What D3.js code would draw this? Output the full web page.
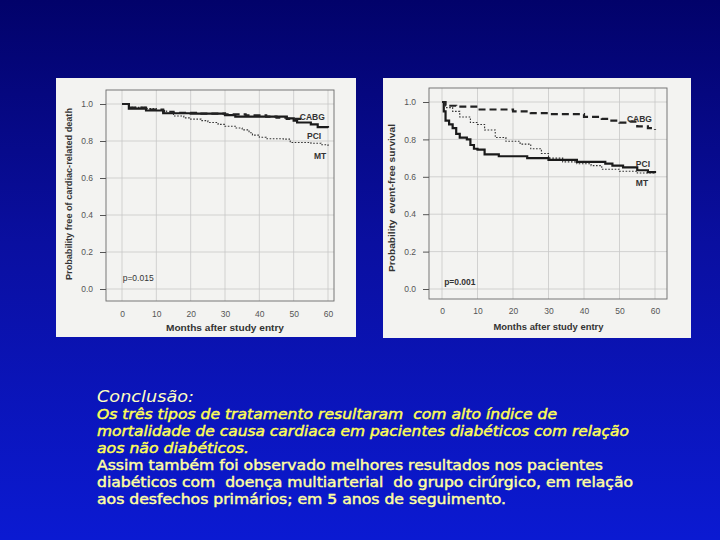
<!DOCTYPE html>
<html><head><meta charset="utf-8">
<script src="https://cdn.jsdelivr.net/npm/d3@7/dist/d3.min.js"></script>
<style>
html,body{margin:0;padding:0;background:#000070;}
svg{display:block;}
</style></head>
<body>
<svg id="c" width="720" height="540"></svg>
<script>
// ---------- data ----------
const xTicks = [0,10,20,30,40,50,60];
const yTicks = [0,0.2,0.4,0.6,0.8,1.0];
const yTickLabels = ["0.0","0.2","0.4","0.6","0.8","1.0"];
const seriesNames = ["CABG","PCI","MT"];

// Panel 1: cardiac-related death
const cabg1Months = [0,2,7,12,15,22,30,36,42,45,48,53];
const cabg1Vals   = [1.0,0.98,0.97,0.958,0.952,0.948,0.944,0.938,0.932,0.926,0.92,0.92];
const pci1Months  = [0,2,7,12,20,30,33,47,48,50,51,55,57,60];
const pci1Vals    = [1.0,0.975,0.965,0.95,0.948,0.94,0.932,0.932,0.922,0.91,0.9,0.89,0.875,0.872];
const mt1Months   = [0,2,7,10,13,15,18,20,23,25,28,30,33,35,37,38,40,42,47,49,55,58,60];
const mt1Vals     = [1.0,0.982,0.975,0.965,0.95,0.935,0.925,0.918,0.91,0.9,0.89,0.88,0.87,0.86,0.845,0.832,0.82,0.812,0.81,0.792,0.788,0.78,0.772];

// Panel 2: event-free survival
const cabg2Months = [0,1,4,10,20,25,30,40,45,47,50,53,55,58,60];
const cabg2Vals   = [1.0,0.98,0.975,0.96,0.95,0.94,0.935,0.92,0.91,0.9,0.89,0.895,0.87,0.86,0.85];
const pci2Months  = [0,0.5,1,2,3,4,5,7,8,9,10,12,16,24,30,38,46,48,51,55,58,60];
const pci2Vals    = [1.0,0.95,0.9,0.88,0.86,0.83,0.81,0.8,0.77,0.75,0.745,0.72,0.71,0.70,0.69,0.68,0.67,0.66,0.65,0.635,0.625,0.62];
const mt2Months   = [0,1,3,5,8,10,12,15,18,22,25,28,30,34,38,42,45,50,55,60];
const mt2Vals     = [1.0,0.97,0.95,0.92,0.89,0.88,0.85,0.81,0.79,0.775,0.75,0.725,0.70,0.68,0.67,0.66,0.64,0.63,0.62,0.615];

const pValues = ["p=0.015","p=0.001"];
const yTitles = ["Probability free of cardiac-related death","Probability  event-free survival"];
const xTitle = "Months after study entry";

const conclusionTitle = "Conclusão:";
const conclusionLines = [
  "Os três tipos de tratamento resultaram  com alto índice de",
  "mortalidade de causa cardiaca em pacientes diabéticos com relação",
  "aos não diabéticos.",
  "Assim também foi observado melhores resultados nos pacientes",
  "diabéticos com  doença multiarterial  do grupo cirúrgico, em relação",
  "aos desfechos primários; em 5 anos de seguimento."
];

// ---------- drawing ----------
const svg = d3.select("#c");
const defs = svg.append("defs");
const grad = defs.append("linearGradient").attr("id","bg").attr("x1",0).attr("y1",0).attr("x2",0).attr("y2",1);
grad.append("stop").attr("offset","0%").attr("stop-color","#02026a");
grad.append("stop").attr("offset","45%").attr("stop-color","#0a0fa0");
grad.append("stop").attr("offset","100%").attr("stop-color","#0b1ad2");
svg.append("rect").attr("width",720).attr("height",540).attr("fill","url(#bg)");

const FONT = "Liberation Sans, Arial, sans-serif";
const panels = [
  {px:56, py:78, pw:300, ph:259, box:[106,90,334,301], xr:[122,328], yr:[289,104],
   series:[[cabg1Months,cabg1Vals],[pci1Months,pci1Vals],[mt1Months,mt1Vals]],
   labels:[[51.8,0.935],[53.9,0.832],[55.9,0.724]], p:[0.2,0.06], pBold:false,
   yTitleX:68, yTitleC:194, yTitleL:172, xTitleL:118, xLabY:314, xTitleY:327},
  {px:383, py:78, pw:308, ph:260, box:[429,88,667,299], xr:[442,655], yr:[289,102],
   series:[[cabg2Months,cabg2Vals],[pci2Months,pci2Vals],[mt2Months,mt2Vals]],
   labels:[[52.1,0.913],[54.6,0.673],[54.6,0.571]], p:[0.6,0.04], pBold:true,
   yTitleX:391, yTitleC:198, yTitleL:148, xTitleL:110, xLabY:311, xTitleY:326}
];

const styles = [
  {w:2.2, dash:"7,4", col:"#222"},
  {w:2.2, dash:null, col:"#1a1a1a"},
  {w:1.1, dash:"1.6,1.6", col:"#333"}
];

panels.forEach((P,i)=>{
  const g = svg.append("g");
  g.append("rect").attr("x",P.px).attr("y",P.py).attr("width",P.pw).attr("height",P.ph).attr("fill","#f3f3f1");
  const x = d3.scaleLinear().domain([0,60]).range(P.xr);
  const y = d3.scaleLinear().domain([0,1]).range(P.yr);
  const [bx0,by0,bx1,by1] = P.box;
  // grid
  g.selectAll(".vg").data(xTicks).join("line")
    .attr("x1",d=>x(d)).attr("x2",d=>x(d)).attr("y1",by0).attr("y2",by1)
    .attr("stroke","#c8c8c8").attr("stroke-width",0.8);
  g.selectAll(".hg").data(yTicks).join("line")
    .attr("y1",d=>y(d)).attr("y2",d=>y(d)).attr("x1",bx0).attr("x2",bx1)
    .attr("stroke","#c8c8c8").attr("stroke-width",0.8);
  // box
  g.append("rect").attr("x",bx0).attr("y",by0).attr("width",bx1-bx0).attr("height",by1-by0)
    .attr("fill","none").attr("stroke","#6a6a6a").attr("stroke-width",0.9);
  // axes via d3
  const yAxis = d3.axisLeft(y).tickValues(yTicks).tickFormat((d,k)=>yTickLabels[k]).tickSize(6).tickPadding(7);
  const ya = g.append("g").attr("transform",`translate(${bx0},0)`).call(yAxis);
  ya.select(".domain").remove();
  ya.selectAll("line").attr("stroke","#555");
  ya.selectAll("text").attr("font-family",FONT).attr("font-size",8.5).attr("fill","#555");
  const xAxis = d3.axisBottom(x).tickValues(xTicks).tickSize(0).tickPadding(P.xLabY-by1-3);
  const xa = g.append("g").attr("transform",`translate(0,${by1})`).call(xAxis);
  xa.select(".domain").remove();
  xa.selectAll("text").attr("font-family",FONT).attr("font-size",8.5).attr("fill","#555");
  // titles
  g.append("text").attr("x",(P.xr[0]+P.xr[1])/2 - P.xTitleL/2).attr("y",P.xTitleY+3.5)
    .attr("font-family",FONT).attr("font-weight","bold").attr("font-size",9.5).attr("fill","#333")
    .attr("textLength",P.xTitleL).attr("lengthAdjust","spacingAndGlyphs")
    .text(xTitle);
  g.append("text").attr("transform",`translate(${P.yTitleX+3.5},${P.yTitleC + P.yTitleL/2}) rotate(-90)`)
    .attr("font-family",FONT).attr("font-weight","bold").attr("font-size",9).attr("fill","#333")
    .attr("style","white-space:pre")
    .attr("textLength",P.yTitleL).attr("lengthAdjust","spacingAndGlyphs")
    .text(yTitles[i]);
  // lines
  const line = d3.line().x(d=>x(d[0])).y(d=>y(d[1])).curve(d3.curveStepAfter);
  [2,1,0].forEach(s=>{
    const [m,v] = P.series[s];
    const pts = m.map((mm,k)=>[mm,v[k]]);
    const path = g.append("path").attr("d",line(pts)).attr("fill","none")
      .attr("stroke",styles[s].col).attr("stroke-width",styles[s].w);
    if(styles[s].dash) path.attr("stroke-dasharray",styles[s].dash);
  });
  // series labels
  seriesNames.forEach((n,k)=>{
    g.append("text").attr("x",x(P.labels[k][0])).attr("y",y(P.labels[k][1])+3.5)
      .attr("font-family",FONT).attr("font-weight","bold").attr("font-size",8.5).attr("fill","#333")
      .text(n);
  });
  g.append("text").attr("x",x(P.p[0])).attr("y",y(P.p[1])+3)
    .attr("font-family",FONT).attr("font-weight",P.pBold?"bold":"normal").attr("font-size",8.5).attr("fill","#333")
    .text(pValues[i]);
});

// conclusion text
svg.append("text").attr("x",97).attr("y",402).attr("font-family","DejaVu Sans, Verdana, sans-serif")
  .attr("font-style","italic").attr("font-size",15).attr("fill","#ffffc0")
  .attr("textLength",97).attr("lengthAdjust","spacingAndGlyphs").text(conclusionTitle);
const lineY = [419,436,453,470,487,504];
const lineW = [460,532,152,506,536,409];
conclusionLines.forEach((t,k)=>{
  const col = k<3?"#ffff55":"#ffffa0";
  svg.append("text").attr("x",97).attr("y",lineY[k])
    .attr("font-family","DejaVu Sans, Verdana, sans-serif")
    .attr("font-style",k<3?"italic":"normal").attr("font-weight","normal")
    .attr("font-size",14).attr("fill",col)
    .attr("stroke",col).attr("stroke-width",0.45)
    .attr("style","white-space:pre")
    .attr("textLength",lineW[k]).attr("lengthAdjust","spacingAndGlyphs").text(t);
});
</script>
</body></html>
